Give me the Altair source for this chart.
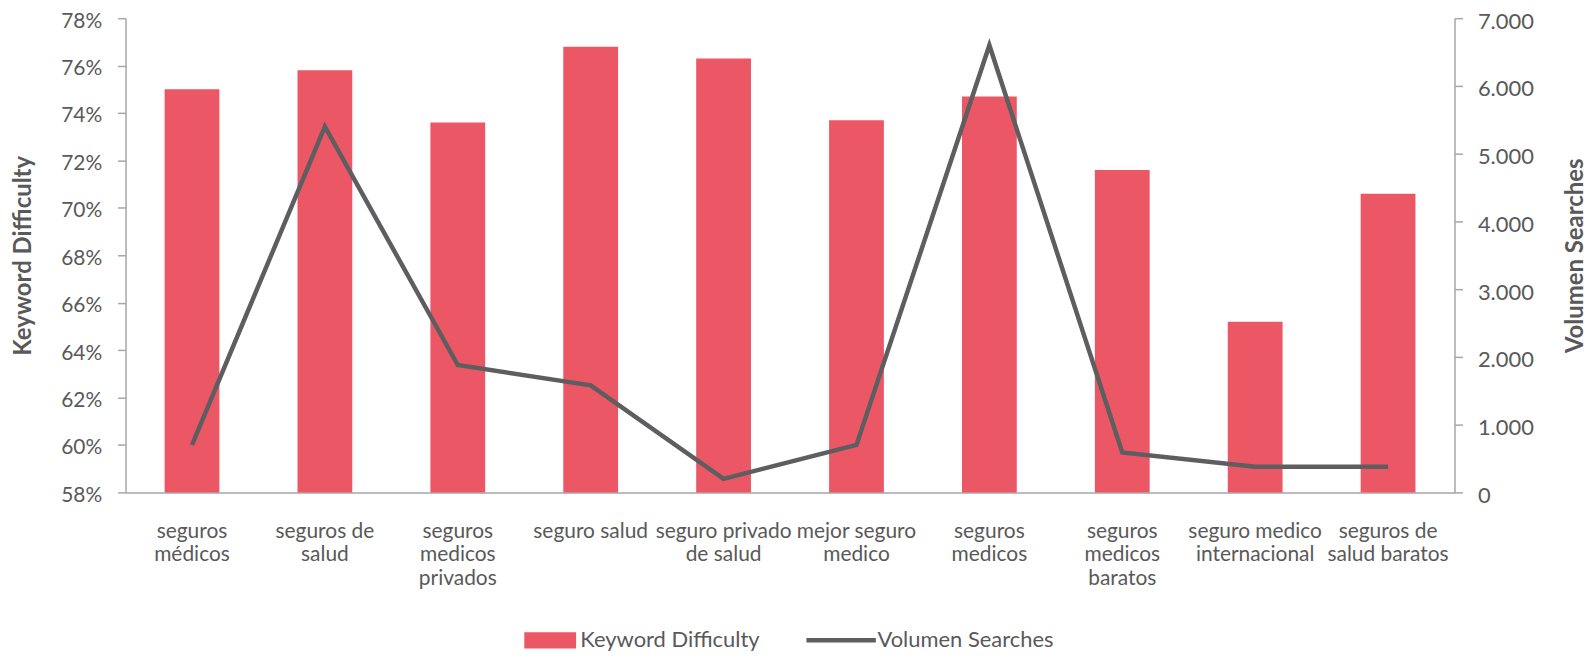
import altair as alt
import pandas as pd

categories = [
    "seguros|médicos",
    "seguros de|salud",
    "seguros|medicos|privados",
    "seguro salud",
    "seguro privado|de salud",
    "mejor seguro|medico",
    "seguros|medicos",
    "seguros|medicos|baratos",
    "seguro medico|internacional",
    "seguros de|salud baratos",
]
keyword_difficulty = [0.750, 0.758, 0.736, 0.768, 0.763, 0.737, 0.747, 0.716, 0.652, 0.706]
volumen_searches = [700, 5400, 1880, 1580, 200, 700, 6600, 590, 380, 380]
left_ticks = [0.58, 0.60, 0.62, 0.64, 0.66, 0.68, 0.70, 0.72, 0.74, 0.76, 0.78]
right_ticks = [0, 1000, 2000, 3000, 4000, 5000, 6000, 7000]

RED = "#EC5766"
GRAY = "#5E5E60"
TEXT = "#595959"
AXIS = "#A6A6A6"
FONT = "Lato"

df = pd.DataFrame({
    "cat": categories,
    "kd": keyword_difficulty,
    "vol": volumen_searches,
    "s1": ["Keyword Difficulty"] * len(categories),
    "s2": ["Volumen Searches"] * len(categories),
})

W, H = 1334, 476

x_enc = alt.X(
    "cat:N", sort=None, title=None,
    scale=alt.Scale(paddingInner=0, paddingOuter=0),
    axis=alt.Axis(
        labelExpr="split(datum.label, '|')", labelAngle=0, ticks=False, tickSize=0,
        labelPadding=28, labelFontSize=21, labelLineHeight=23.5, labelColor=TEXT,
        labelFont=FONT, domainColor=AXIS, domainWidth=1.5, grid=False, labelBaseline="top",
        labelLimit=0,
    ),
)

bars = alt.Chart(df).mark_bar(size=55).encode(
    x=x_enc,
    y=alt.Y(
        "kd:Q",
        scale=alt.Scale(domain=[0.58, 0.78], clamp=True, zero=False, nice=False),
        axis=alt.Axis(
            values=left_ticks, format=".0%", grid=False, orient="left",
            tickSize=8, tickColor=AXIS, tickWidth=1.5, domainColor=AXIS, domainWidth=1.5,
            labelFontSize=21, labelColor=TEXT, labelFont=FONT, labelPadding=16, labelOffset=3,
            title="Keyword Difficulty", titleFontSize=24, titleFont=FONT, titleFontWeight="bold",
            titleColor=TEXT, titleX=-102, titleY=H / 2, titleAngle=270,
            titleAlign="center", titleBaseline="middle",
        ),
    ),
    color=alt.Color(
        "s1:N",
        scale=alt.Scale(range=[RED]),
        legend=alt.Legend(
            title=None, orient="none", legendX=409.75, legendY=608, padding=0,
            symbolType="M-1.6,-0.5H1.6V0.5H-1.6Z", symbolSize=1056, symbolStrokeWidth=0,
            labelFontSize=22, labelColor=TEXT, labelFont=FONT, labelOffset=13.75,
            labelLimit=0,
        ),
    ),
)

line = alt.Chart(df).mark_line(strokeWidth=4.5).encode(
    x=x_enc,
    y=alt.Y(
        "vol:Q",
        scale=alt.Scale(domain=[0, 7000], nice=False),
        axis=alt.Axis(
            values=right_ticks, orient="right", grid=False,
            labelExpr="replace(format(datum.value, ','), ',', '.')",
            tickSize=8, tickColor=AXIS, tickWidth=1.5, domainColor=AXIS, domainWidth=1.5,
            labelFontSize=22, labelColor=TEXT, labelFont=FONT, labelPadding=15, labelOffset=3,
            title="Volumen Searches", titleFontSize=24, titleFont=FONT, titleFontWeight="bold",
            titleColor=TEXT, titleX=121, titleY=H / 2, titleAngle=270,
            titleAlign="center", titleBaseline="middle",
        ),
    ),
    color=alt.Color(
        "s2:N",
        scale=alt.Scale(range=[GRAY]),
        legend=alt.Legend(
            title=None, orient="none", legendX=696.3, legendY=602.5, padding=0,
            symbolType="M-1.77,0H1.77", symbolSize=1550, symbolStrokeWidth=4.5,
            labelFontSize=22, labelColor=TEXT, labelFont=FONT, labelOffset=14.5,
            labelLimit=0,
        ),
    ),
)

chart = (
    alt.layer(bars, line)
    .resolve_scale(y="independent", color="independent")
    .properties(
        width=W, height=H,
        autosize=alt.AutoSizeParams(type="none"),
        padding={"left": 118, "top": 9, "right": 134, "bottom": 161},
        background="white",
    )
    .configure_view(stroke=None)
)

chart.save("out.html", embed_options={"renderer": "svg", "actions": False})
